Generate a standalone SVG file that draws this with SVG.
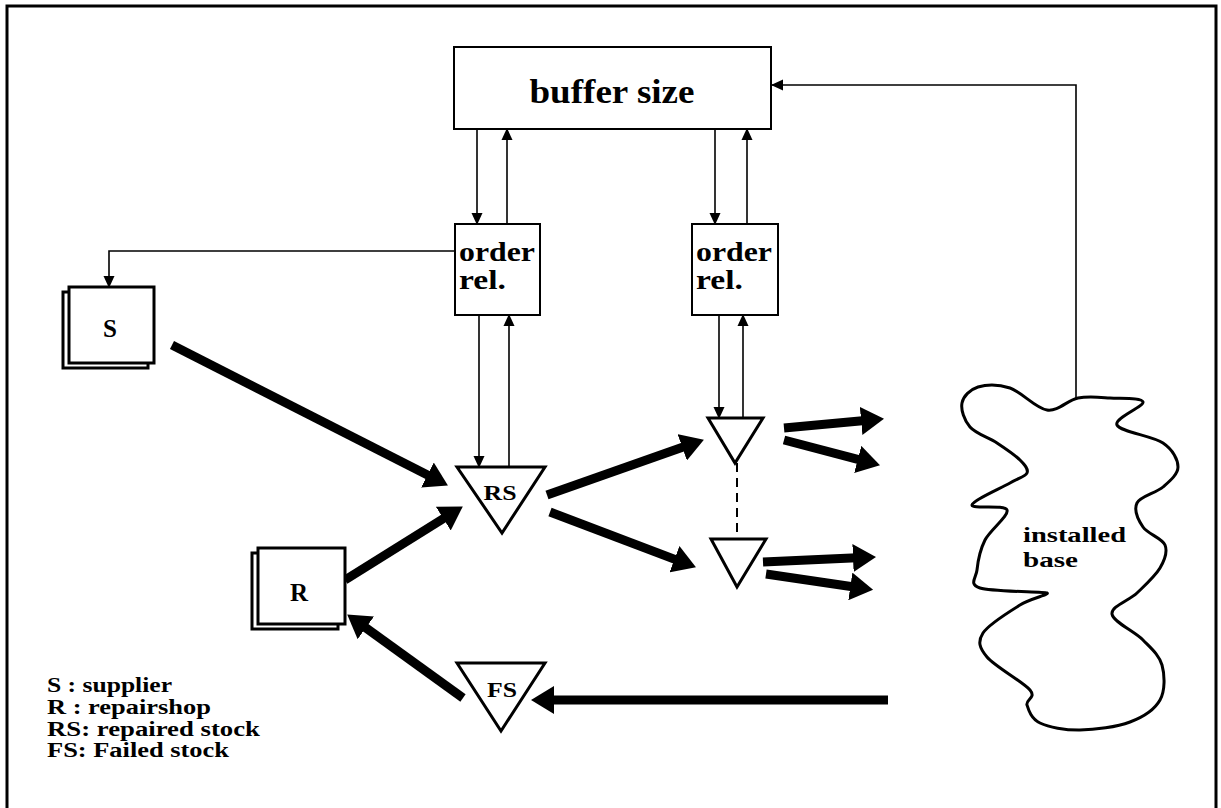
<svg xmlns="http://www.w3.org/2000/svg" width="1221" height="808" viewBox="0 0 1221 808">
  <style>
    .box { fill: #fff; stroke: #000; stroke-width: 2; }
    .dbl { fill: #fff; stroke: #000; stroke-width: 3; }
    .tri { fill: #fff; stroke: #000; stroke-width: 3; stroke-linejoin: miter; }
    .thin { fill: none; stroke: #000; stroke-width: 1.6; }
    .thick { fill: none; stroke: #000; stroke-width: 9; }
    .lbl { font-family: "Liberation Serif", "DejaVu Serif", serif; font-weight: bold; fill: #000; }
  </style>
  <defs>
    <marker id="headSmall" markerUnits="userSpaceOnUse" markerWidth="12" markerHeight="12" viewBox="0 0 12 12" refX="11" refY="6" orient="auto">
      <path d="M0,0.5 L12,6 L0,11.5 Z" fill="#000"/>
    </marker>
    <marker id="headBig" markerUnits="userSpaceOnUse" markerWidth="24" markerHeight="28" viewBox="0 0 24 28" refX="4" refY="14" orient="auto">
      <path d="M0,0 L23,14 L0,28 Z" fill="#000"/>
    </marker>
  </defs>

  <!-- outer frame -->
  <path d="M7,810 V6 H1216 V810" fill="none" stroke="#000" stroke-width="3"/>

  <g id="connectors">
    <!-- buffer size <-> order release (left) -->
    <line class="thin" x1="477" y1="129" x2="477" y2="224" marker-end="url(#headSmall)"/>
    <line class="thin" x1="507" y1="224" x2="507" y2="129" marker-end="url(#headSmall)"/>
    <!-- buffer size <-> order release (right) -->
    <line class="thin" x1="715" y1="129" x2="715" y2="224" marker-end="url(#headSmall)"/>
    <line class="thin" x1="747" y1="224" x2="747" y2="129" marker-end="url(#headSmall)"/>
    <!-- order release (left) <-> RS -->
    <line class="thin" x1="479" y1="315" x2="479" y2="467" marker-end="url(#headSmall)"/>
    <line class="thin" x1="509" y1="467" x2="509" y2="315" marker-end="url(#headSmall)"/>
    <!-- order release (right) <-> local stock -->
    <line class="thin" x1="719" y1="315" x2="719" y2="418" marker-end="url(#headSmall)"/>
    <line class="thin" x1="743" y1="418" x2="743" y2="315" marker-end="url(#headSmall)"/>
    <!-- order release -> supplier -->
    <path class="thin" d="M455,251 H109 V287" marker-end="url(#headSmall)"/>
    <!-- installed base -> buffer size -->
    <path class="thin" d="M1076,398 V85 H772" marker-end="url(#headSmall)"/>
    <!-- link between local stocks -->
    <line x1="737" y1="463" x2="737" y2="539" stroke="#000" stroke-width="2" stroke-dasharray="9 6"/>

    <!-- material flows -->
    <line class="thick" x1="172" y1="345" x2="431" y2="476.8" marker-end="url(#headBig)"/>
    <line class="thick" x1="345" y1="580" x2="446.7" y2="516.5" marker-end="url(#headBig)"/>
    <line class="thick" x1="547" y1="495" x2="686" y2="446" marker-end="url(#headBig)"/>
    <line class="thick" x1="550" y1="512" x2="678.2" y2="560.6" marker-end="url(#headBig)"/>
    <line class="thick" x1="784" y1="428" x2="865.1" y2="420.6" marker-end="url(#headBig)"/>
    <line class="thick" x1="784" y1="440" x2="861.6" y2="460.4" marker-end="url(#headBig)"/>
    <line class="thick" x1="763" y1="562" x2="857" y2="557.8" marker-end="url(#headBig)"/>
    <line class="thick" x1="766" y1="574" x2="854.3" y2="587" marker-end="url(#headBig)"/>
    <line class="thick" x1="888" y1="700" x2="550" y2="700" marker-end="url(#headBig)"/>
    <line class="thick" x1="463" y1="698" x2="362.6" y2="625.5" marker-end="url(#headBig)"/>
  </g>

  <g id="buffer-size">
    <rect class="box" x="454" y="47" width="317" height="82"/>
    <text class="lbl" x="612" y="103" font-size="34" text-anchor="middle" textLength="165" lengthAdjust="spacingAndGlyphs">buffer size</text>
  </g>

  <g id="order-rel-1">
    <rect class="box" x="455" y="224" width="85" height="91"/>
    <text class="lbl" x="459" y="261" font-size="27" textLength="76" lengthAdjust="spacingAndGlyphs">order</text>
    <text class="lbl" x="459" y="289" font-size="27" textLength="47" lengthAdjust="spacingAndGlyphs">rel.</text>
  </g>

  <g id="order-rel-2">
    <rect class="box" x="692" y="224" width="86" height="91"/>
    <text class="lbl" x="696" y="261" font-size="27" textLength="76" lengthAdjust="spacingAndGlyphs">order</text>
    <text class="lbl" x="696" y="289" font-size="27" textLength="47" lengthAdjust="spacingAndGlyphs">rel.</text>
  </g>

  <g id="supplier">
    <rect class="dbl" x="63" y="292" width="85" height="76"/>
    <rect class="dbl" x="69" y="287" width="85" height="76"/>
    <text class="lbl" x="110" y="337" font-size="25" text-anchor="middle">S</text>
  </g>

  <g id="repairshop">
    <rect class="dbl" x="252" y="553" width="86" height="76"/>
    <rect class="dbl" x="258" y="548" width="87" height="76"/>
    <text class="lbl" x="299" y="601" font-size="25" text-anchor="middle">R</text>
  </g>

  <g id="repaired-stock">
    <polygon class="tri" points="457,467 545,467 502,533"/>
    <text class="lbl" x="500" y="500" font-size="22" text-anchor="middle" textLength="33" lengthAdjust="spacingAndGlyphs">RS</text>
  </g>

  <g id="local-stock-1">
    <polygon class="tri" points="708,418 763,418 735,463"/>
  </g>

  <g id="local-stock-2">
    <polygon class="tri" points="711,539 766,539 737,587"/>
  </g>

  <g id="failed-stock">
    <polygon class="tri" points="457,663 545,663 501,731"/>
    <text class="lbl" x="502" y="697" font-size="22" text-anchor="middle" textLength="30" lengthAdjust="spacingAndGlyphs">FS</text>
  </g>

  <g id="installed-base">
    <path fill="none" stroke="#000" stroke-width="3" stroke-linejoin="round"
      d="M1078,398 C1088.5,396 1099.2,397.3 1110,398
         S1141.8,397.5 1143,402 S1113.7,418.2 1117,425 S1152.8,436 1163,443
         S1178,459.7 1178,467 S1169.8,481 1163,487 S1140.3,496.3 1137,503
         S1138.3,520 1143,527 S1162.2,538.2 1165,545 S1164.7,560 1160,568
         S1145,585.3 1137,593 S1111,606.2 1112,614 S1134.7,631.5 1143,640
         S1159.2,655 1162,665 S1165.3,690.5 1160,700 S1143.3,717 1130,722
         S1095,729.8 1080,730 S1048.8,727.2 1040,723 S1028.7,710.5 1027,705
         S1036.7,698 1030,690 S994.8,666.5 987,657 S977.5,641.7 983,633
         S1009.3,611.7 1020,605 S1050.3,594.4 1047,593 S991.7,591.8 980,588
         S976.2,578 977,570 S980,550 985,540 S1009.2,515.8 1007,510
         S971.5,509.5 972,505 S1000.8,488.3 1010,483 S1025.3,476.8 1027,473
         S1025,465 1020,460 S1005.3,448.5 997,443 S975.8,433.7 970,427
         S960.7,409.7 962,403 S970,389.5 978,387 S998.5,384.2 1010,388
         S1035.7,408.3 1047,410 S1067.5,400 1078,398 Z"/>
    <text class="lbl" x="1023" y="542" font-size="22" textLength="103" lengthAdjust="spacingAndGlyphs">installed</text>
    <text class="lbl" x="1023" y="567" font-size="22" textLength="55" lengthAdjust="spacingAndGlyphs">base</text>
  </g>

  <g id="legend">
    <text class="lbl" x="47" y="692" font-size="20" textLength="125" lengthAdjust="spacingAndGlyphs">S : supplier</text>
    <text class="lbl" x="47" y="714" font-size="20" textLength="164" lengthAdjust="spacingAndGlyphs">R : repairshop</text>
    <text class="lbl" x="47" y="736" font-size="20" textLength="213" lengthAdjust="spacingAndGlyphs">RS: repaired stock</text>
    <text class="lbl" x="47" y="757" font-size="20" textLength="182" lengthAdjust="spacingAndGlyphs">FS: Failed stock</text>
  </g>
</svg>
